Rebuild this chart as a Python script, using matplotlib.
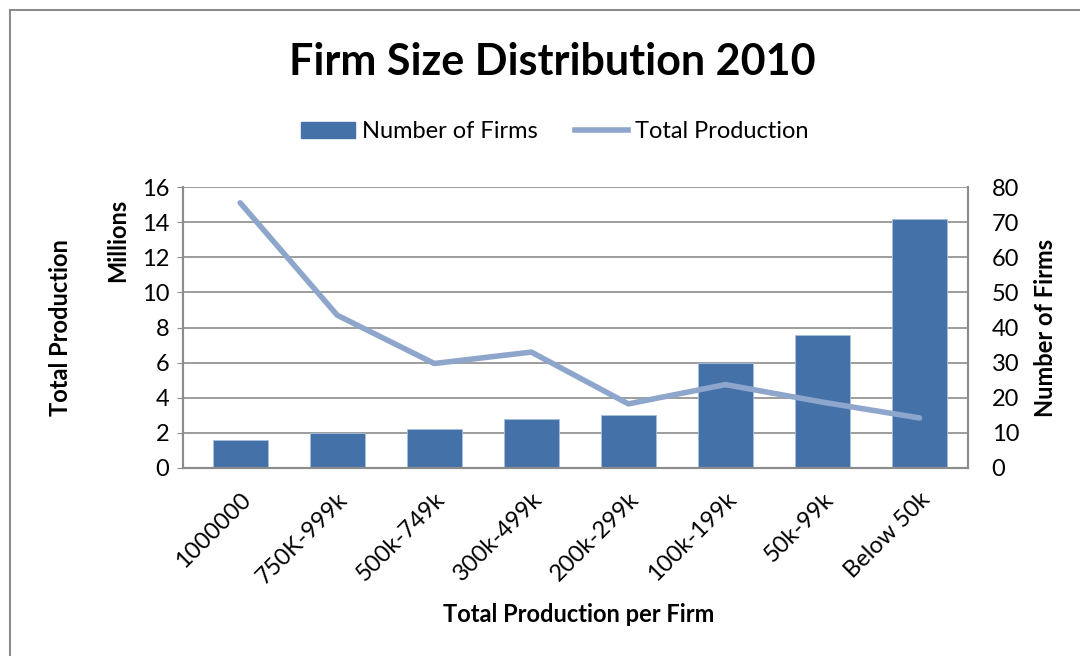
import matplotlib
matplotlib.use("Agg")
from matplotlib import pyplot as plt
from matplotlib.lines import Line2D
from matplotlib.patches import Patch
import numpy as np

# firm size classes and their values
categories = ["1000000", "750K-999k", "500k-749k", "300k-499k",
              "200k-299k", "100k-199k", "50k-99k", "Below 50k"]
num_firms = [8, 10, 11, 14, 15, 30, 38, 71]
total_production = [15.1, 8.7, 5.95, 6.6, 3.65, 4.75, 3.75, 2.85]  # millions

bar_color = "#4472a8"
line_color = "#8ea6cc"
grid_color = "#8c8c8c"
plt.rcParams["font.family"] = ["Lato", "DejaVu Sans"]

fig = plt.figure(figsize=(10.8, 6.56), dpi=100)
ax = fig.add_axes([0.1694, 0.2866, 0.7269, 0.4283])
ax2 = ax.twinx()
x = np.arange(len(categories))

# bars on the right scale, kept underneath the line
ax2.bar(x, num_firms, width=0.57, color=bar_color, edgecolor="#a9bfe0",
        linewidth=0.6, zorder=2)
ax2.set_ylim(0, 80)
ax2.set_yticks(np.arange(0, 81, 10))
ax2.yaxis.grid(True, color=grid_color, linewidth=1.2, zorder=0)
ax2.set_axisbelow(True)

ax.set_zorder(ax2.get_zorder() + 1)
ax.patch.set_visible(False)
ax.plot(x, total_production, color=line_color, linewidth=4,
        solid_capstyle="round", solid_joinstyle="round")
ax.set_ylim(0, 16)
ax.set_yticks(np.arange(0, 17, 2))
ax.set_xlim(-0.59, 7.5)
ax.set_xticks(x)
ax.set_xticklabels(categories, rotation=45, ha="right", va="top",
                   rotation_mode="anchor", fontsize=17)
ax.tick_params(axis="x", length=0, pad=15)
ax.tick_params(axis="y", labelsize=17, length=4, color=grid_color, pad=6)
ax2.tick_params(axis="y", labelsize=17, length=0, pad=17)

for a in (ax, ax2):
    for s in a.spines.values():
        s.set_color(grid_color)
        s.set_linewidth(1.5)
ax.spines["top"].set_visible(False)
ax2.spines["top"].set_visible(False)

fig.text(0.0556, 0.501, "Total Production", rotation=90, ha="center",
         va="center", fontsize=17, fontweight="bold")
fig.text(0.109, 0.634, "Millions", rotation=90, ha="center", va="center",
         fontsize=17, fontweight="bold")
fig.text(0.9676, 0.5, "Number of Firms", rotation=90, ha="center",
         va="center", fontsize=17, fontweight="bold")
fig.text(0.536, 0.064, "Total Production per Firm", ha="center",
         va="center", fontsize=17, fontweight="bold")

fig.text(0.511, 0.905, "Firm Size Distribution 2010", ha="center",
         va="center", fontsize=31, fontweight="bold")

handles = [Patch(facecolor=bar_color, edgecolor=bar_color),
           Line2D([0], [0], color=line_color, linewidth=4)]
fig.legend(handles, ["Number of Firms", "Total Production"],
           loc="center", bbox_to_anchor=(0.514, 0.799), ncol=2,
           frameon=False, fontsize=17, handlelength=2.25, handleheight=0.65,
           handletextpad=0.3, columnspacing=1.6)

# chart area border
fig.add_artist(Line2D([10 / 1080, 10 / 1080], [0, 1 - 10 / 656],
                      transform=fig.transFigure, color=grid_color, linewidth=1.5))
fig.add_artist(Line2D([10 / 1080, 1], [1 - 10 / 656, 1 - 10 / 656],
                      transform=fig.transFigure, color=grid_color, linewidth=1.5))

plt.savefig("out.png", dpi=100)
